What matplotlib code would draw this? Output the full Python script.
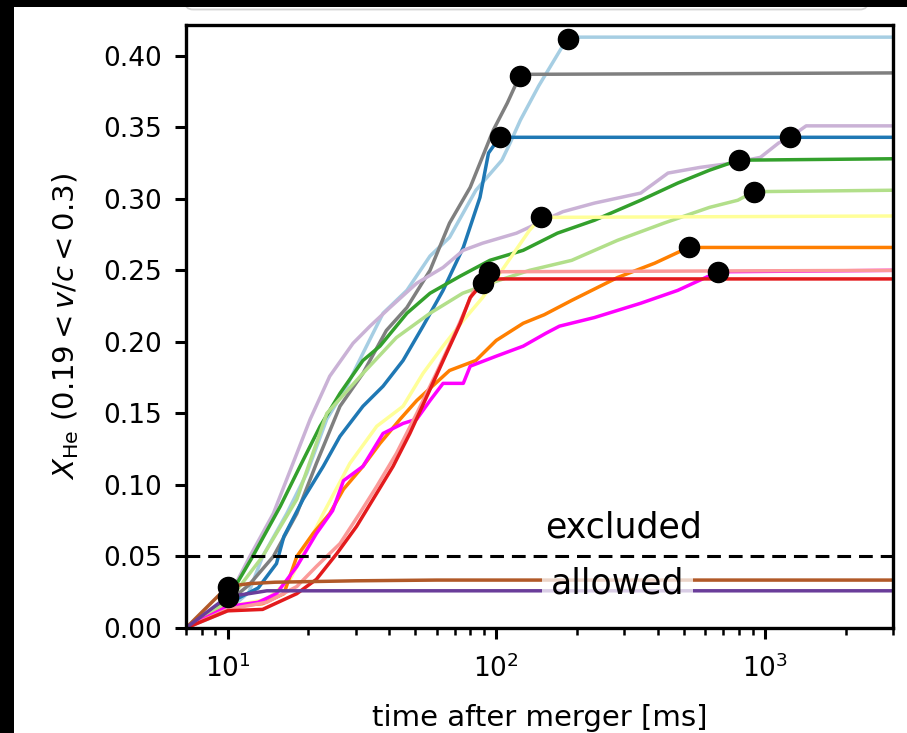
import matplotlib
matplotlib.use("Agg")
import matplotlib.pyplot as plt
from matplotlib.patches import Rectangle, FancyBboxPatch
from matplotlib.transforms import IdentityTransform

# ---- data: time after merger [ms] and helium mass fraction per model ----
t_lightblue = [7, 10, 12, 13.5, 16.6, 19.7, 23.4, 27.8, 31.9, 37.9, 46.5, 56.7, 67, 84, 105, 112, 123, 144, 177, 185, 3000]
x_lightblue = [0, 0.012, 0.025, 0.050, 0.080, 0.108, 0.146, 0.169, 0.192, 0.220, 0.236, 0.260, 0.273, 0.306, 0.327, 0.338, 0.355, 0.379, 0.407, 0.413, 0.413]

t_gray = [7, 10, 12, 14.8, 18.1, 21.4, 26.2, 31.9, 39, 46.5, 56.7, 67, 80, 97.5, 110, 123, 3000]
x_gray = [0, 0.018, 0.030, 0.050, 0.080, 0.115, 0.155, 0.178, 0.208, 0.224, 0.250, 0.283, 0.308, 0.348, 0.367, 0.387, 0.388]

t_blue = [7, 10, 13, 15.2, 16.2, 19.1, 22.7, 26.2, 31.9, 37.9, 45, 53.4, 63.4, 75.4, 87, 93.6, 103, 3000]
x_blue = [0, 0.017, 0.028, 0.045, 0.064, 0.090, 0.113, 0.134, 0.155, 0.169, 0.187, 0.211, 0.236, 0.266, 0.301, 0.332, 0.343, 0.343]

t_lilac = [7, 10, 12.1, 14.8, 18.1, 20.3, 24, 29.3, 33.9, 40.2, 50.6, 63.4, 75.4, 89, 119, 177, 232, 345, 436, 575, 760, 963, 1125, 1240, 1425, 3000]
x_lilac = [0, 0.020, 0.050, 0.080, 0.122, 0.146, 0.176, 0.199, 0.211, 0.224, 0.241, 0.252, 0.264, 0.269, 0.276, 0.291, 0.297, 0.304, 0.318, 0.322, 0.325, 0.329, 0.339, 0.343, 0.351, 0.351]

t_green = [7, 10, 12.4, 15.7, 18.6, 22.1, 26.2, 31.9, 36.9, 46.5, 56.7, 73.5, 94.7, 126, 169, 232, 345, 474, 622, 798, 3000]
x_green = [0, 0.020, 0.050, 0.085, 0.113, 0.141, 0.164, 0.187, 0.197, 0.220, 0.234, 0.246, 0.257, 0.264, 0.276, 0.285, 0.299, 0.311, 0.320, 0.327, 0.328]

t_lightgreen = [7, 10, 13.5, 18.1, 23.4, 31.9, 42.5, 56.7, 75, 95, 133, 191, 283, 421, 622, 793, 912, 3000]
x_lightgreen = [0, 0.018, 0.050, 0.090, 0.150, 0.178, 0.203, 0.220, 0.234, 0.241, 0.250, 0.257, 0.271, 0.283, 0.294, 0.299, 0.305, 0.306]

t_yellow = [7, 10, 14, 17.1, 18.1, 22.7, 28.5, 35.9, 45, 53.4, 63.4, 75.4, 89, 105, 133, 147, 3000]
x_yellow = [0, 0.015, 0.020, 0.034, 0.043, 0.080, 0.115, 0.141, 0.155, 0.178, 0.197, 0.215, 0.231, 0.250, 0.278, 0.287, 0.288]

t_orange = [7, 10, 13.5, 16.2, 18.1, 20.8, 24, 27, 31.9, 36.9, 43.9, 50.6, 67, 84, 100, 126, 151, 191, 283, 389, 520, 3000]
x_orange = [0, 0.015, 0.017, 0.024, 0.050, 0.066, 0.080, 0.097, 0.113, 0.129, 0.146, 0.159, 0.180, 0.187, 0.201, 0.213, 0.219, 0.229, 0.245, 0.255, 0.266, 0.266]

t_magenta = [7, 10, 13, 15.2, 18.1, 21.4, 24.6, 27, 31.9, 37.9, 45, 50.6, 56.7, 63.4, 75.4, 80, 100, 126, 153, 172, 232, 345, 474, 670, 3000]
x_magenta = [0, 0.015, 0.018, 0.024, 0.043, 0.066, 0.082, 0.103, 0.113, 0.136, 0.143, 0.146, 0.159, 0.171, 0.171, 0.183, 0.190, 0.197, 0.206, 0.211, 0.217, 0.227, 0.236, 0.249, 0.250]

t_pink = [7, 10, 14, 18.1, 21.4, 26.2, 31, 35.9, 42.5, 50.6, 59.8, 71, 81.6, 89, 94, 3000]
x_pink = [0, 0.013, 0.018, 0.029, 0.043, 0.059, 0.080, 0.099, 0.122, 0.150, 0.178, 0.208, 0.234, 0.245, 0.249, 0.250]

t_red = [7, 10, 13.5, 18.1, 21.4, 25.5, 30.2, 34.8, 41.3, 47.7, 55.2, 65.3, 73.5, 80, 89, 92, 3000]
x_red = [0, 0.012, 0.013, 0.024, 0.034, 0.052, 0.071, 0.090, 0.113, 0.136, 0.162, 0.192, 0.213, 0.231, 0.241, 0.244, 0.244]

t_brown = [7, 10, 12, 15, 30, 60, 3000]
x_brown = [0, 0.029, 0.031, 0.032, 0.033, 0.0335, 0.0335]

t_purple = [7, 10, 12, 14, 3000]
x_purple = [0, 0.022, 0.024, 0.026, 0.026]

colors = ["#a6cee3", "#7f7f7f", "#1f78b4", "#cab2d6", "#33a02c", "#b2df8a",
          "#ffff99", "#ff7f00", "#ff00ff", "#fb9a99", "#e31a1c", "#b15928", "#6a3d9a"]
series_t = [t_lightblue, t_gray, t_blue, t_lilac, t_green, t_lightgreen,
            t_yellow, t_orange, t_magenta, t_pink, t_red, t_brown, t_purple]
series_x = [x_lightblue, x_gray, x_blue, x_lilac, x_green, x_lightgreen,
            x_yellow, x_orange, x_magenta, x_pink, x_red, x_brown, x_purple]

# marked epochs (one per model)
mark_t = [185, 123, 103, 1240, 798, 912, 147, 520, 670, 94, 89, 10, 10]
mark_x = [0.412, 0.386, 0.343, 0.343, 0.327, 0.305, 0.287, 0.266, 0.249, 0.249, 0.241, 0.029, 0.022]

x_limit = 0.05
xticks_major = [10, 100, 1000]

# ---- figure ----
W, H = 907, 733
fig = plt.figure(figsize=(W / 100, H / 100), dpi=100)
ax = fig.add_axes([186 / W, 1 - 628 / H, (893 - 186) / W, (628 - 25) / H])

for t, x, c in zip(series_t, series_x, colors):
    ax.plot(t, x, color=c, lw=2.5, zorder=2)
ax.plot(mark_t, mark_x, "o", color="k", ms=14.5, zorder=4, linestyle="none")

ax.axhline(x_limit, color="k", ls="--", lw=2.2, dashes=(4.5, 2.6), zorder=2.5)
ax.text(297, 0.070, "excluded", ha="center", va="center", fontsize=25)
ax.text(283, 0.0312, "allowed", ha="center", va="center", fontsize=25, zorder=3,
        bbox=dict(boxstyle="square,pad=0.25", facecolor="white", alpha=0.75, edgecolor="none"))

ax.set_xscale("log")
ax.set_xlim(7, 3000)
ax.set_ylim(0, 0.4215)
ax.set_yticks([0.0, 0.05, 0.10, 0.15, 0.20, 0.25, 0.30, 0.35, 0.40])
ax.set_yticklabels([f"{v:.2f}" for v in ax.get_yticks()])
ax.set_xticks(xticks_major)

ax.tick_params(axis="both", which="major", labelsize=19, length=8, width=2.2, pad=11)
ax.tick_params(axis="y", which="major", pad=9)
ax.tick_params(axis="both", which="minor", length=5, width=1.8)
for s in ax.spines.values():
    s.set_linewidth(2.4)

ax.set_xlabel("time after merger [ms]", fontsize=21, labelpad=15)
ax.set_ylabel(r"$X_{\rm He}$ $(0.19 < v/c < 0.3)$", fontsize=21, labelpad=16)

# frame edge of the panel above and dark margins
fig.patches.append(FancyBboxPatch((185, H - 9.5), 683, 60,
                                  boxstyle="round,pad=0,rounding_size=8",
                                  transform=IdentityTransform(), facecolor="white",
                                  edgecolor="#d4d4d4", lw=1.3, zorder=0))
fig.patches.append(Rectangle((0, 0), 14 / W, 1, transform=fig.transFigure,
                             facecolor="black", edgecolor="none", zorder=5))
fig.patches.append(Rectangle((0, 1 - 7 / H), 1, 7 / H, transform=fig.transFigure,
                             facecolor="black", edgecolor="none", zorder=5))

fig.savefig("out.png", dpi=100, facecolor="white")
